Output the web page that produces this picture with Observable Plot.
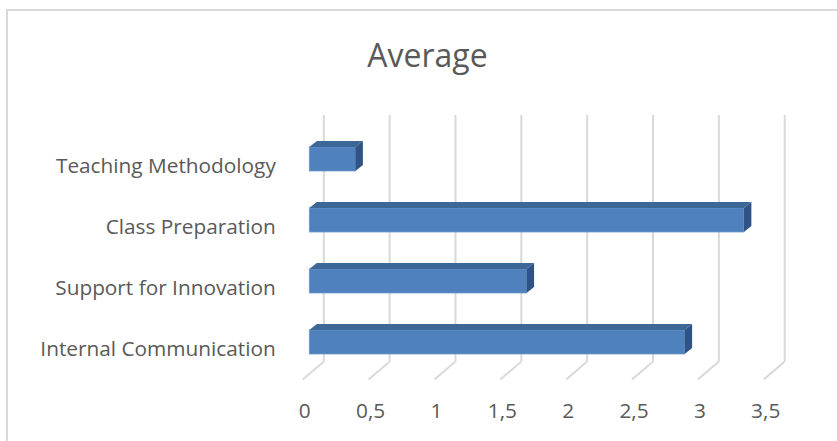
<!DOCTYPE html>
<html><head><meta charset="utf-8">
<script src="https://cdn.jsdelivr.net/npm/d3@7"></script>
<script src="https://cdn.jsdelivr.net/npm/@observablehq/plot@0.6"></script>
<style>
html,body{margin:0;padding:0;background:#fff;}
#wrap{position:relative;width:837px;height:441px;overflow:hidden;}
#border{position:absolute;left:6px;top:9px;width:900px;height:500px;border-left:2px solid #d9d9d9;border-top:2px solid #d9d9d9;box-sizing:border-box;}
#title{position:absolute;left:18px;width:819px;top:39px;text-align:center;font-family:"Open Sans",sans-serif;font-size:32px;color:#595959;line-height:1;}
#chart{position:absolute;left:0;top:0;}
</style></head><body>
<div id="wrap"><div id="border"></div><div id="chart"></div><div id="title"></div></div>
<script>
const categories = ["Teaching Methodology", "Class Preparation", "Support for Innovation", "Internal Communication"];
const values = [0.35, 3.3, 1.65, 2.85];
const ticks = [0, 0.5, 1, 1.5, 2, 2.5, 3, 3.5];
const tickLabels = ["0", "0,5", "1", "1,5", "2", "2,5", "3", "3,5"];
const title = "Average";

const data = categories.map((c, i) => ({category: c, value: values[i]}));

// 3D depth offsets (px), relative to the bar front plane
const BACK = {dx: 14, dy: -12};
const FRONT = {dx: -6.6, dy: 5.6};
const DEPTH = {dx: 7.5, dy: -6};
const TEXT = "#595959", GRID = "#d9d9d9";

function barFaces(index, scales, vals, dims) {
  const x = scales.x, y = scales.y;
  const bw = y.bandwidth ? y.bandwidth() : scales.scales.y.bandwidth;
  const g = d3.create("svg:g");
  for (const d of data) {
    const x0 = x(0), x1 = x(d.value), y0 = y(d.category), y1 = y0 + bw;
    g.append("path")
      .attr("d", `M${x0},${y0}L${x0 + DEPTH.dx},${y0 + DEPTH.dy}L${x1 + DEPTH.dx},${y0 + DEPTH.dy}L${x1},${y0}Z`)
      .attr("fill", "#3d6797");
    g.append("path")
      .attr("d", `M${x1},${y0}L${x1 + DEPTH.dx},${y0 + DEPTH.dy}L${x1 + DEPTH.dx},${y1 + DEPTH.dy}L${x1},${y1}Z`)
      .attr("fill", "#2f5384");
  }
  return g.node();
}

function floorLines(index, scales, vals, dims) {
  const x = scales.x;
  const fb = dims.height - dims.marginBottom;
  const g = d3.create("svg:g");
  for (const t of ticks) {
    g.append("line")
      .attr("x1", x(t) + BACK.dx).attr("y1", fb + BACK.dy)
      .attr("x2", x(t) + FRONT.dx).attr("y2", fb + FRONT.dy)
      .attr("stroke", GRID).attr("stroke-width", 2);
  }
  return g.node();
}

const plot = Plot.plot({
  width: 837,
  height: 441,
  marginLeft: 309.3,
  marginRight: 66.8,
  marginTop: 127,
  marginBottom: 67,
  style: {fontFamily: "'Open Sans', sans-serif", fontSize: "20.8px", color: TEXT, background: "transparent"},
  x: {domain: [0, 3.5], axis: null},
  y: {domain: categories, paddingInner: 0.603, paddingOuter: 0.3015, axis: null},
  marks: [
    Plot.ruleX(ticks, {x: d => d, stroke: GRID, strokeWidth: 2, dx: BACK.dx, dy: BACK.dy}),
    floorLines,
    Plot.barX(data, {x: "value", y: "category", fill: "#4f81bd", stroke: "#7199cc", strokeWidth: 0.8}),
    barFaces,
    Plot.axisX(ticks, {tickSize: 0, tickPadding: 29, dx: -5, tickFormat: d => tickLabels[ticks.indexOf(d)], fill: TEXT, fontSize: 20.8, label: null}),
    Plot.axisY({tickSize: 0, tickPadding: 34, dy: 6.5, fill: TEXT, fontSize: 20.8, label: null})
  ]
});
document.getElementById("chart").appendChild(plot);
document.getElementById("title").textContent = title;
</script>
</body></html>
